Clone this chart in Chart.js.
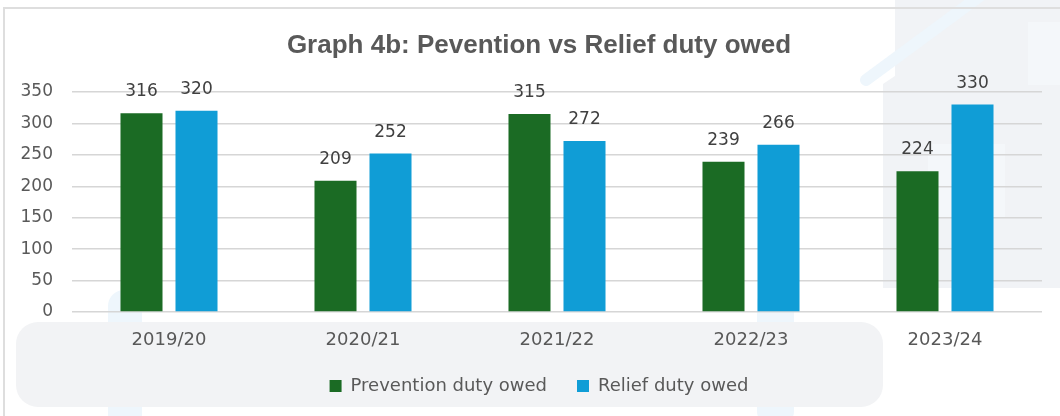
<!DOCTYPE html>
<html lang="en">
<head>
<meta charset="UTF-8">
<title>Graph 4b</title>
<script src="https://cdn.jsdelivr.net/npm/chart.js"></script>
<style>
  html, body { margin: 0; padding: 0; background: #fff; }
  #wrap { width: 1060px; height: 416px; }
</style>
</head>
<body>
<div id="wrap"><canvas id="duty-chart" width="1060" height="416"></canvas></div>
<script>
const years = ['2019/20', '2020/21', '2021/22', '2022/23', '2023/24'];
const preventionOwed = [316, 209, 315, 239, 224];
const reliefOwed = [320, 252, 272, 266, 330];
const yTicks = [0, 50, 100, 150, 200, 250, 300, 350];

const GREEN = '#1b6b24';
const BLUE = '#109dd6';
const TEXT = '#595959';
const NUM_FONT = 'DejaVu Sans';

// page furniture behind the plot: frame, faint house watermark, legend panel
const backdrop = {
  id: 'backdrop',
  beforeDraw(chart) {
    const ctx = chart.ctx;
    ctx.save();
    ctx.fillStyle = '#fff';
    ctx.fillRect(0, 0, chart.width, chart.height);

    // house watermark
    ctx.fillStyle = '#f1f3f6';
    ctx.beginPath();
    ctx.moveTo(895, 0);
    ctx.lineTo(1060, 0);
    ctx.lineTo(1060, 288);
    ctx.lineTo(883, 288);
    ctx.lineTo(883, 84);
    ctx.lineTo(895, 76);
    ctx.closePath();
    ctx.fill();
    ctx.fillStyle = '#f4f7fa';
    ctx.fillRect(1028, 22, 32, 63);
    ctx.fillRect(928, 144, 77, 73);
    ctx.strokeStyle = '#eef6fc';
    ctx.lineWidth = 12;
    ctx.lineCap = 'round';
    ctx.beginPath();
    ctx.moveTo(866, 80);
    ctx.lineTo(980, -4);
    ctx.stroke();

    // pale vertical stripes
    ctx.fillStyle = '#eef6fc';
    ctx.beginPath();
    ctx.roundRect(108, 290, 34, 140, 16);
    ctx.fill();
    ctx.beginPath();
    ctx.roundRect(757, 287, 37, 140, 16);
    ctx.fill();

    // outer frame
    ctx.strokeStyle = '#dedede';
    ctx.lineWidth = 2;
    ctx.strokeRect(4, 8, 1070, 430);

    // rounded panel under the axis labels and legend
    ctx.fillStyle = '#f2f3f5';
    ctx.beginPath();
    ctx.roundRect(16, 322, 867, 85, 22);
    ctx.fill();
    ctx.restore();
  }
};

// numbers above each bar
const barValues = {
  id: 'barValues',
  afterDatasetsDraw(chart) {
    const ctx = chart.ctx;
    ctx.save();
    ctx.font = '17px "' + NUM_FONT + '"';
    ctx.fillStyle = '#404040';
    ctx.textAlign = 'center';
    ctx.textBaseline = 'alphabetic';
    chart.data.datasets.forEach((ds, i) => {
      chart.getDatasetMeta(i).data.forEach((bar, j) => {
        ctx.fillText(String(ds.data[j]), bar.x, bar.y - 17);
      });
    });
    ctx.restore();
  }
};

new Chart(document.getElementById('duty-chart'), {
  type: 'bar',
  data: {
    labels: years,
    datasets: [
      { label: 'Prevention duty owed', data: preventionOwed, backgroundColor: GREEN },
      { label: 'Relief duty owed', data: reliefOwed, backgroundColor: BLUE }
    ]
  },
  options: {
    responsive: false,
    animation: false,
    devicePixelRatio: 1,
    categoryPercentage: 0.567,
    barPercentage: 0.764,
    layout: { padding: { left: 18, right: 0, top: 0, bottom: 11 } },
    plugins: {
      title: {
        display: true,
        text: 'Graph 4b: Pevention vs Relief duty owed',
        color: TEXT,
        font: { family: 'Liberation Sans', size: 26, weight: 'bold' },
        padding: { top: 30, bottom: 30.8 }
      },
      legend: {
        position: 'bottom',
        labels: {
          boxWidth: 12,
          boxHeight: 12,
          padding: 30,
          color: TEXT,
          font: { family: NUM_FONT, size: 18 }
        }
      },
      tooltip: { enabled: false }
    },
    scales: {
      x: {
        grid: { display: false, drawTicks: false },
        border: { display: false },
        ticks: { color: TEXT, padding: 18, font: { family: NUM_FONT, size: 18 } },
        afterFit(scale) { scale.height = 35; }
      },
      y: {
        min: yTicks[0],
        max: yTicks[yTicks.length - 1],
        grid: { color: '#d6d6d6', lineWidth: 1.5, drawTicks: false },
        border: { display: false },
        ticks: {
          stepSize: yTicks[1] - yTicks[0],
          padding: 19,
          color: TEXT,
          font: { family: NUM_FONT, size: 17 }
        },
        afterFit(scale) { scale.width = 54; }
      },
      // empty right-hand gutter so the plot stops short of the edge
      gutter: {
        type: 'linear',
        axis: 'y',
        position: 'right',
        grid: { display: false, drawTicks: false },
        border: { display: false },
        ticks: { display: false },
        afterFit(scale) { scale.width = 18; }
      }
    }
  },
  plugins: [backdrop, barValues]
});
</script>
</body>
</html>
